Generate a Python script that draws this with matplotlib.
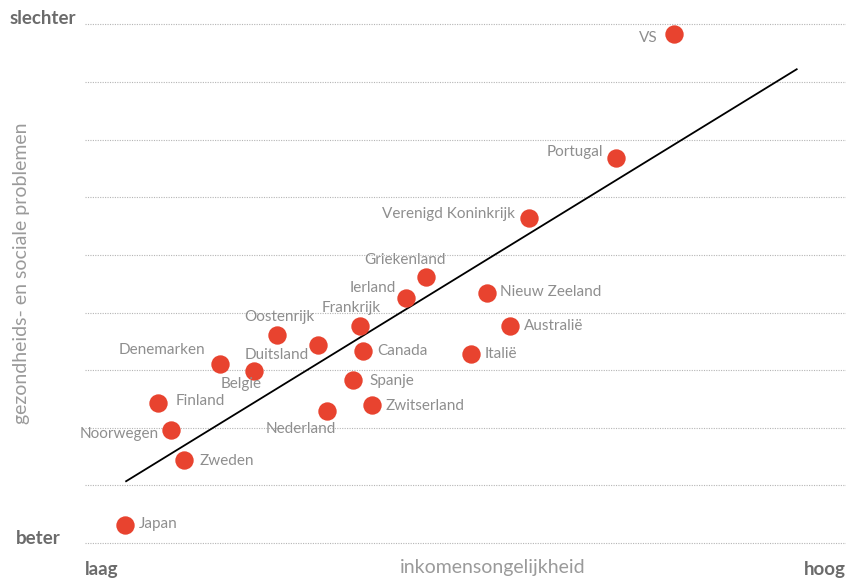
import numpy as np
import matplotlib
matplotlib.use("Agg")
import matplotlib.pyplot as plt

# inkomensongelijkheid (x) en index gezondheids- en sociale problemen (y)
countries = ["VS", "Portugal", "Verenigd Koninkrijk", "Griekenland", "Ierland",
             "Nieuw Zeeland", "Australië", "Frankrijk", "Oostenrijk", "Duitsland",
             "Canada", "Italië", "Denemarken", "Belgie", "Spanje", "Finland",
             "Zwitserland", "Nederland", "Noorwegen", "Zweden", "Japan"]
inequality = [8.50, 7.96, 7.15, 6.20, 6.01, 6.76, 6.98, 5.58, 4.81, 5.19,
              5.61, 6.61, 4.28, 4.60, 5.52, 3.71, 5.69, 5.28, 3.83, 3.95, 3.40]
problems = [8.84, 6.68, 5.64, 4.62, 4.25, 4.34, 3.77, 3.77, 3.61, 3.44,
            3.33, 3.28, 3.11, 2.99, 2.83, 2.43, 2.40, 2.29, 1.96, 1.44, 0.31]

# label placement: (dx px, dy px, ha)
label_pos = {
    "VS": (-16, -4, "right"), "Portugal": (-13, 6, "right"),
    "Verenigd Koninkrijk": (-14, 4, "right"), "Griekenland": (-21, 17, "center"),
    "Ierland": (-10, 10, "right"), "Nieuw Zeeland": (13, 1, "left"),
    "Australië": (14, 0, "left"), "Frankrijk": (-9, 18, "center"),
    "Oostenrijk": (3, 18, "center"), "Duitsland": (-41, -10, "center"),
    "Canada": (14, 0, "left"), "Italië": (14, 0, "left"),
    "Denemarken": (-15, 14, "right"), "Belgie": (-13, -13, "center"),
    "Spanje": (16, -1, "left"), "Finland": (17, 2, "left"),
    "Zwitserland": (14, -1, "left"), "Nederland": (-27, -18, "center"),
    "Noorwegen": (-13, -4, "right"), "Zweden": (15, -1, "left"),
    "Japan": (14, 1, "left"),
}

plt.rcParams['font.family'] = ['Lato', 'DejaVu Sans']

fig = plt.figure(figsize=(8.46, 5.78), dpi=100)
ax = fig.add_axes([85 / 846, 0.0306, 761 / 846, 0.957])
ax.set_xlim(3.028, 10.098)
ax.set_ylim(-0.3, 9.3)
ax.axis("off")

for g in range(10):
    ax.axhline(g, color="#b5b5b5", lw=0.8, linestyle=(0, (1, 1.2)), zorder=1)

# trend line (least squares)
slope, icpt = np.polyfit(inequality, problems, 1)
tx = np.array([3.41, 9.64])
ax.plot(tx, slope * tx + icpt, color="black", lw=1.3, zorder=2)

ax.scatter(inequality, problems, s=175, color="#e8432f", zorder=3, linewidths=0)

for name, x, y in zip(countries, inequality, problems):
    dx, dy, ha = label_pos[name]
    ax.annotate(name, (x, y), xytext=(dx, dy), textcoords="offset pixels",
                ha=ha, va="center", fontsize=11, color="#8e8e8e", zorder=4)

bold = dict(fontsize=13.5, fontweight="bold", color="#6b6b6b")
fig.text(10 / 846, 1 - 18 / 578, "slechter", ha="left", va="center", **bold)
fig.text(16 / 846, 1 - 538 / 578, "beter", ha="left", va="center", **bold)
fig.text(85 / 846, 1 - 569 / 578, "laag", ha="left", va="center", **bold)
fig.text(846 / 846, 1 - 569 / 578, "hoog", ha="right", va="center", **bold)
fig.text(493 / 846, 1 - 568 / 578, "inkomensongelijkheid", ha="center", va="center",
         fontsize=14, color="#9a9a9a")
fig.text(22 / 846, 1 - 273 / 578, "gezondheids- en sociale problemen", rotation=90,
         ha="center", va="center", fontsize=14, color="#9a9a9a")

fig.savefig("out.png", dpi=100)
